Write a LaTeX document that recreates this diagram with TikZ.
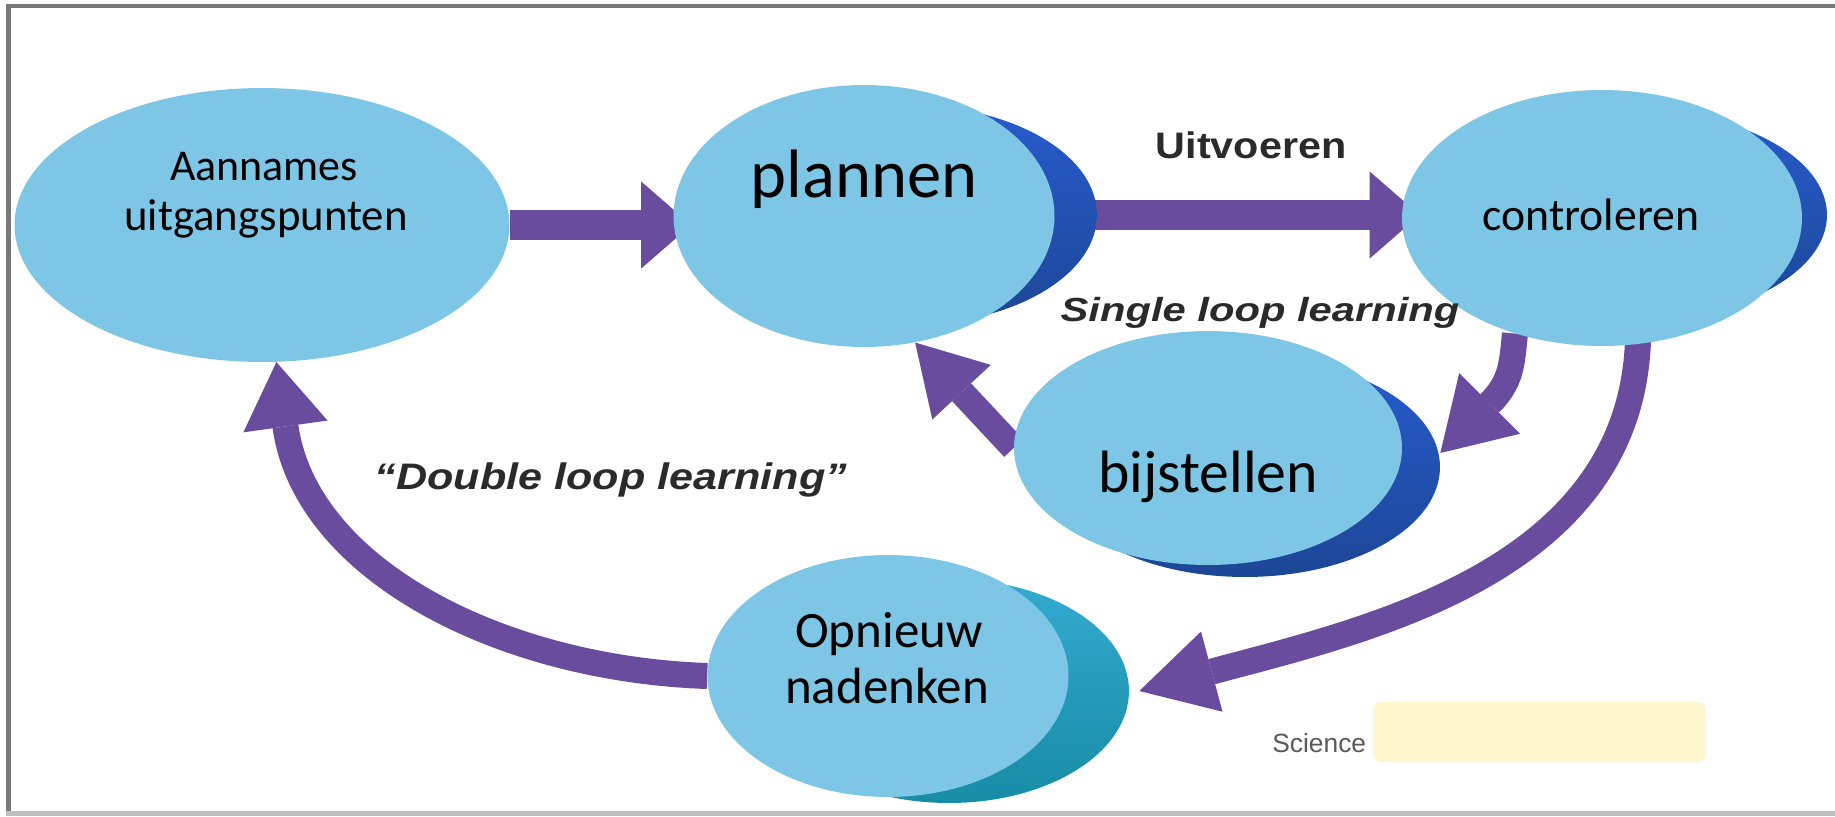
\documentclass[tikz,border=0pt]{standalone}
\usepackage{fontspec}
\usepackage{graphicx}
\newfontfamily\nodefont{Carlito}
\newfontfamily\labfont{Liberation Sans}
\usetikzlibrary{shapes.geometric,arrows.meta}
\pgfdeclarelayer{arrowlayer}
\pgfdeclarelayer{backlayer}
\pgfsetlayers{arrowlayer,backlayer,main}
\definecolor{ellfill}{RGB}{126,198,230}
\definecolor{blueA}{RGB}{40,92,205}
\definecolor{blueB}{RGB}{28,70,150}
\definecolor{tealA}{RGB}{52,170,208}
\definecolor{tealB}{RGB}{22,140,165}
\definecolor{arrowpurple}{RGB}{106,76,158}
\definecolor{labgray}{RGB}{42,42,42}
\definecolor{notebox}{RGB}{255,246,206}
\definecolor{framegray}{RGB}{120,120,120}
\begin{document}
\begin{tikzpicture}[x=0.02cm,y=0.02cm,
  front/.style={ellipse, fill=ellfill, inner sep=0pt},
  backell/.style={ellipse, inner sep=0pt},
  nodetext/.style={anchor=base, inner sep=0pt, text=black},
  labtext/.style={anchor=base, inner sep=0pt, text=labgray, font=\labfont\bfseries},
  flatarrow/.style={draw=arrowpurple, line width=0.6cm, -{Triangle[length=1.0cm,width=1.74cm,line width=0pt]}},
  curvearrow/.style={draw=arrowpurple, line width=0.52cm}
]
\useasboundingbox (0,0) rectangle (1835,-816);
\begin{pgfonlayer}{arrowlayer}
  \fill[white] (0,0) rectangle (1835,-816);
  \fill[framegray] (6,-4) rectangle (1835,-8);
  \fill[framegray] (6,-4) rectangle (11,-812);
  \fill[black!25] (6,-811) rectangle (1835,-816);
\end{pgfonlayer}

% front ellipses
\node[front, minimum width=9.9cm, minimum height=5.48cm] (A) at (262,-225) {};
\node[front, minimum width=7.62cm, minimum height=5.24cm] (P) at (864,-216) {};
\node[front, minimum width=8.0cm, minimum height=5.12cm] (C) at (1602,-218) {};
\node[front, minimum width=7.76cm, minimum height=4.68cm] (B) at (1208,-448) {};
\node[front, minimum width=7.22cm, minimum height=4.84cm] (O) at (888,-676) {};

% back (shadow) ellipses
\begin{pgfonlayer}{backlayer}
  \node[backell, top color=blueA, bottom color=blueB, minimum width=7.6cm, minimum height=4.4cm] (Pb) at (907,-215) {};
  \node[backell, top color=blueA, bottom color=blueB, minimum width=8.0cm, minimum height=4.24cm] (Cb) at (1627,-215) {};
  \node[backell, top color=blueA, bottom color=blueB, minimum width=7.8cm, minimum height=4.4cm] (Bb) at (1245,-467) {};
  \node[backell, top color=tealA, bottom color=tealB, minimum width=7.2cm, minimum height=4.48cm] (Ob) at (949,-691) {};
\end{pgfonlayer}

% texts in ellipses
\node[nodetext, font=\nodefont\fontsize{25}{28}\selectfont] (At1) at (264,-180) {Aannames};
\node[nodetext, font=\nodefont\fontsize{25.5}{28}\selectfont] (At2) at (266,-230) {uitgangspunten};
\node[nodetext, font=\nodefont\fontsize{39}{44}\selectfont] (Pt) at (864,-197) {plannen};
\node[nodetext, font=\nodefont\fontsize{26}{30}\selectfont] (Ct) at (1591,-230) {controleren};
\node[nodetext, font=\nodefont\fontsize{34}{38}\selectfont] (Bt) at (1208,-492) {bijstellen};
\node[nodetext, font=\nodefont\fontsize{29}{32}\selectfont] (Ot1) at (889,-647) {Opnieuw};
\node[nodetext, font=\nodefont\fontsize{29}{32}\selectfont] (Ot2) at (887,-703) {nadenken};

% labels
\node[labtext, font=\labfont\bfseries\fontsize{21}{24}\selectfont] (uitv) at (1251,-158) {\scalebox{1.12}[1]{Uitvoeren}};
\node[labtext, font=\labfont\bfseries\itshape\fontsize{19}{22}\selectfont] (single) at (1260,-321) {\scalebox{1.25}[1]{Single loop learning}};
\node[labtext, font=\labfont\bfseries\itshape\fontsize{21}{24}\selectfont] (double) at (611,-489) {\scalebox{1.17}[1]{“Double loop learning”}};
\node[anchor=base west, inner sep=0pt, text=black!65, font=\labfont\fontsize{15}{18}\selectfont] (sci) at (1272,-752) {Science};
\node[fill=notebox, rounded corners=0.16cm, minimum width=6.66cm, minimum height=1.2cm, inner sep=0pt] (note) at (1539.5,-732) {};

% arrows
\begin{pgfonlayer}{arrowlayer}
  \draw[flatarrow] (A.east) -- ([xshift=0.36cm]A.east -| P.west);
  \draw[flatarrow] ([xshift=-0.2cm]Pb.east) -- ([xshift=0.36cm]Pb.east -| C.west);
  \draw[curvearrow, -{Triangle[length=1.4cm,width=1.72cm,line width=0pt]}]
    (C.-127) .. controls (1512,-365) and (1511,-382) .. ([yshift=0.28cm]Bb.east);
  \draw[curvearrow, -{Triangle[length=1.36cm,width=1.6cm,line width=0pt]}]
    (B.west) -- (P.-68);
  \draw[curvearrow, -{Triangle[length=1.5cm,width=1.66cm,line width=0pt]}]
    ([yshift=0.3cm]C.-74) to[out=-90, in=15, looseness=1.0] ([xshift=0.2cm]Ob.east);
  \draw[curvearrow, -{Triangle[length=1.3cm,width=1.7cm,line width=0pt]}]
    (O.west) to[out=178, in=-82] (A.-84);
\end{pgfonlayer}
\end{tikzpicture}
\end{document}
